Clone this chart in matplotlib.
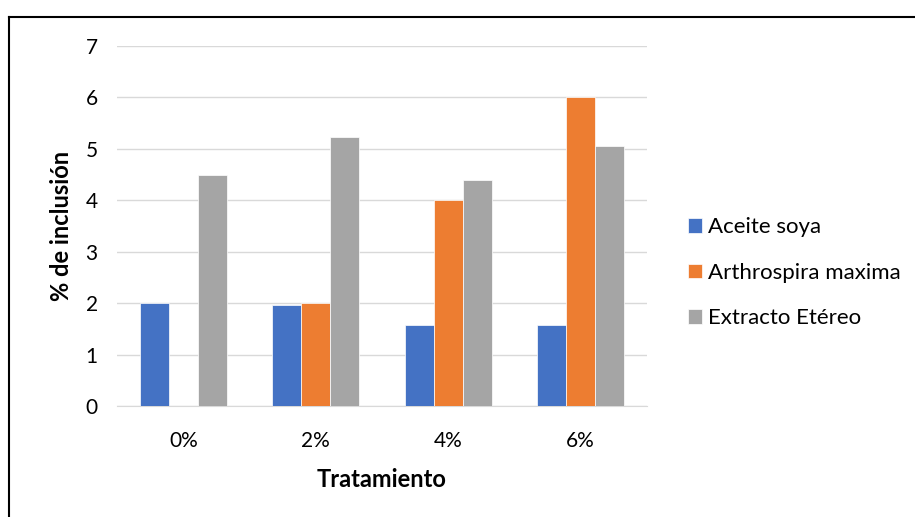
import matplotlib.pyplot as plt
import numpy as np
from matplotlib.lines import Line2D

plt.rcParams['font.family'] = ['Lato', 'DejaVu Sans']

# datos
tratamientos = ['0%', '2%', '4%', '6%']
aceite_soya = [2.0, 1.97, 1.57, 1.57]
arthrospira = [0.0, 2.0, 4.0, 6.0]
extracto_etereo = [4.49, 5.23, 4.40, 5.05]

series = [('Aceite soya', aceite_soya, '#4472C4'),
          ('Arthrospira maxima', arthrospira, '#ED7D31'),
          ('Extracto Etéreo', extracto_etereo, '#A5A5A5')]

fig = plt.figure(figsize=(9.15, 5.17), dpi=100)
ax = fig.add_axes([0.128, 0.2147, 0.579, 0.6963])

x = np.arange(len(tratamientos))
w = 0.22
for i, (nombre, vals, color) in enumerate(series):
    ax.bar(x + (i - 1) * w, vals, w, color=color, label=nombre, zorder=3,
           edgecolor='white', linewidth=0.5)

ax.set_xlim(-0.5, 3.5)
ax.set_ylim(0, 7)
ax.set_yticks(range(8))
ax.set_xticks(x)
ax.set_xticklabels(tratamientos)
ax.grid(axis='y', color='#D9D9D9', linewidth=1, zorder=0)
for s in ['top', 'right', 'left']:
    ax.spines[s].set_visible(False)
ax.spines['bottom'].set_color('#D9D9D9')
ax.tick_params(axis='both', length=0, labelsize=15, colors='#000000')
ax.tick_params(axis='x', pad=18)
ax.tick_params(axis='y', pad=14)

ax.set_xlabel('Tratamiento', fontsize=17, fontweight='bold', labelpad=12)
ax.set_ylabel('% de inclusión', fontsize=17, fontweight='bold', labelpad=9)

fig.legend(loc='upper left', bbox_to_anchor=(0.752, 0.58), frameon=False,
           fontsize=16, handlelength=0.63, handleheight=0.63, handletextpad=0.25,
           labelspacing=1.15, borderaxespad=0, borderpad=0)

# borde del gráfico
fig.add_artist(Line2D([9 / 915, 1], [1 - 17 / 517, 1 - 17 / 517], color='black', linewidth=1.5))
fig.add_artist(Line2D([9 / 915, 9 / 915], [0, 1 - 17 / 517], color='black', linewidth=1.5))

plt.savefig('out.png', dpi=100)
